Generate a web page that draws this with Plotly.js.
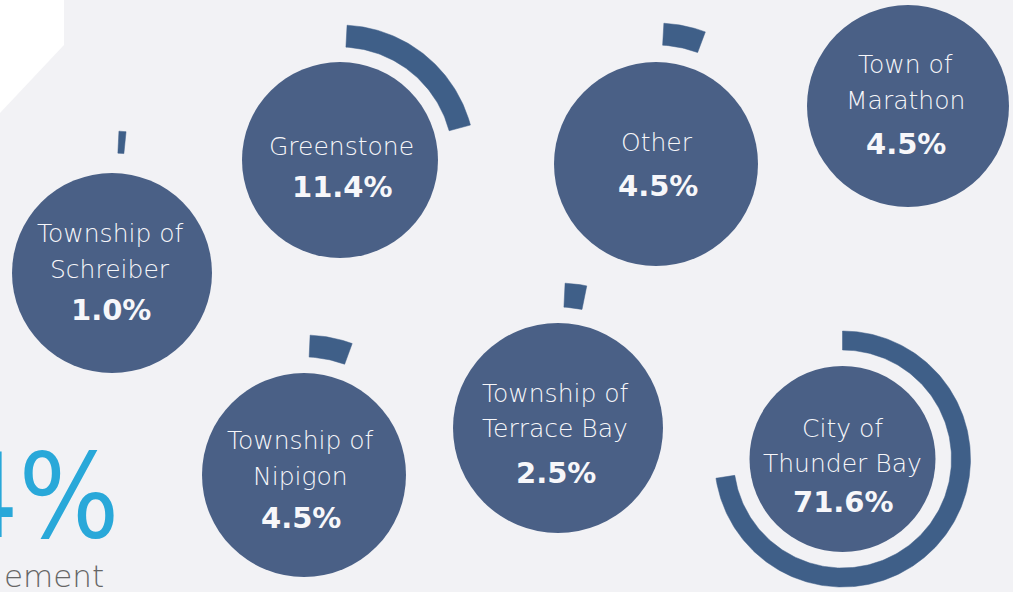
<!DOCTYPE html>
<html>
<head>
<meta charset="utf-8">
<script src="https://cdn.plot.ly/plotly-3.0.1.min.js"></script>
<style>
  html, body { margin: 0; padding: 0; background: #f2f2f5; overflow: hidden; }
  #chart { width: 1013px; height: 592px; }
</style>
</head>
<body>
<div id="chart"></div>
<script>
// ---------------- DATA ----------------
const nameLines = [
  ['Township of', 'Schreiber'],
  ['Greenstone'],
  ['Other'],
  ['Town of', 'Marathon'],
  ['Township of', 'Nipigon'],
  ['Township of', 'Terrace Bay'],
  ['City of', 'Thunder Bay']
];
const sharePct = [1.0, 11.4, 4.5, 4.5, 4.5, 2.5, 71.6];          // printed values
const arcPct   = [0.8, 20.0, 4.8, 4.8, 4.9, 2.4, 72.6];          // arc extent as drawn
const bigValue = '4%';
const bigCaption = 'ement';

// ---------------- LAYOUT CONFIG (positions / sizes) ----------------
const cx    = [112, 340, 656, 908, 304, 558, 842.5];
const cy    = [273, 160, 164, 106, 475, 428, 459];
const rad   = [100, 98, 102, 101, 102, 105, 93];
const rIn   = [120, 113, 119, 118, 118, 121, 109];
const rOut  = [142, 135, 141, 140, 140, 145, 128];
const start = [2.8, 3.0, 3.2, 3.0, 2.5, 2.8, 0.0];     // start offset (deg, clockwise from top)
const textX = [110, 341, 657, 905, 300, 555, 842];
const lineBase = [[242, 278], [155], [151], [73, 109], [449, 485], [402, 437], [437, 472]];
const valueBase = [320, 197, 196, 154, 528, 483, 512];

const circleColor = '#4a6086';
const arcColor = '#3f5f88';
const textColor = '#f7f7fa';
const labelFont = 'DejaVu Sans';
const labelSize = 25, valueSize = 29;

const traces = [];

// arcs (annular sectors) computed from arcPct through the axis scales
arcPct.forEach((p, i) => {
  const a0 = start[i], a1 = start[i] + p * 3.6;
  const xs = [], ys = [];
  const n = Math.max(4, Math.ceil(a1 - a0));
  for (let k = 0; k <= n; k++) {
    const a = (a0 + (a1 - a0) * k / n) * Math.PI / 180;
    xs.push(cx[i] + rOut[i] * Math.sin(a));
    ys.push(cy[i] - rOut[i] * Math.cos(a));
  }
  for (let k = n; k >= 0; k--) {
    const a = (a0 + (a1 - a0) * k / n) * Math.PI / 180;
    xs.push(cx[i] + rIn[i] * Math.sin(a));
    ys.push(cy[i] - rIn[i] * Math.cos(a));
  }
  xs.push(xs[0]); ys.push(ys[0]);
  traces.push({
    type: 'scatter', mode: 'lines', x: xs, y: ys,
    fill: 'toself', fillcolor: arcColor,
    line: { color: arcColor, width: 0.5 },
    hoverinfo: 'skip', showlegend: false
  });
});

// circles
traces.push({
  type: 'scatter', mode: 'markers',
  x: cx, y: cy, opacity: 1,
  marker: { size: rad.map(r => r * 2), color: circleColor, opacity: 1, line: { width: 0 } },
  hoverinfo: 'skip', showlegend: false
});

// annotations
const annotations = [];
nameLines.forEach((lines, i) => {
  lines.forEach((t, j) => {
    annotations.push({
      x: textX[i], y: lineBase[i][j] - 0.345 * labelSize,
      xref: 'x', yref: 'y', text: t, showarrow: false,
      xanchor: 'center', yanchor: 'middle',
      font: { family: labelFont, size: labelSize, color: textColor, weight: 200 }
    });
  });
  annotations.push({
    x: textX[i] + 1, y: valueBase[i] - 0.345 * valueSize,
    xref: 'x', yref: 'y', text: sharePct[i].toFixed(1) + '%', showarrow: false,
    xanchor: 'center', yanchor: 'middle',
    font: { family: labelFont, size: valueSize, color: textColor, weight: 700 }
  });
});
annotations.push({
  x: 121, y: 496, xref: 'x', yref: 'y', text: bigValue, showarrow: false,
  xanchor: 'right', yanchor: 'middle',
  font: { family: 'DejaVu Sans Condensed', size: 118, color: '#29a8d9', weight: 400 }
});
annotations.push({
  x: 106, y: 576, xref: 'x', yref: 'y', text: bigCaption, showarrow: false,
  xanchor: 'right', yanchor: 'middle',
  font: { family: labelFont, size: 31, color: '#666666', weight: 200 }
});

const layout = {
  width: 1013, height: 592,
  margin: { l: 0, r: 0, t: 0, b: 0, pad: 0 },
  paper_bgcolor: '#f2f2f5', plot_bgcolor: '#f2f2f5',
  xaxis: { range: [0, 1013], visible: false, fixedrange: true },
  yaxis: { range: [592, 0], visible: false, fixedrange: true },
  showlegend: false,
  shapes: [{
    type: 'path', xref: 'x', yref: 'y', layer: 'below',
    path: 'M0,0 L64,0 L64,45 L0,113 Z',
    fillcolor: '#ffffff', line: { width: 0 }
  }],
  annotations: annotations
};

Plotly.newPlot('chart', traces, layout, { displayModeBar: false, staticPlot: true });
</script>
</body>
</html>
